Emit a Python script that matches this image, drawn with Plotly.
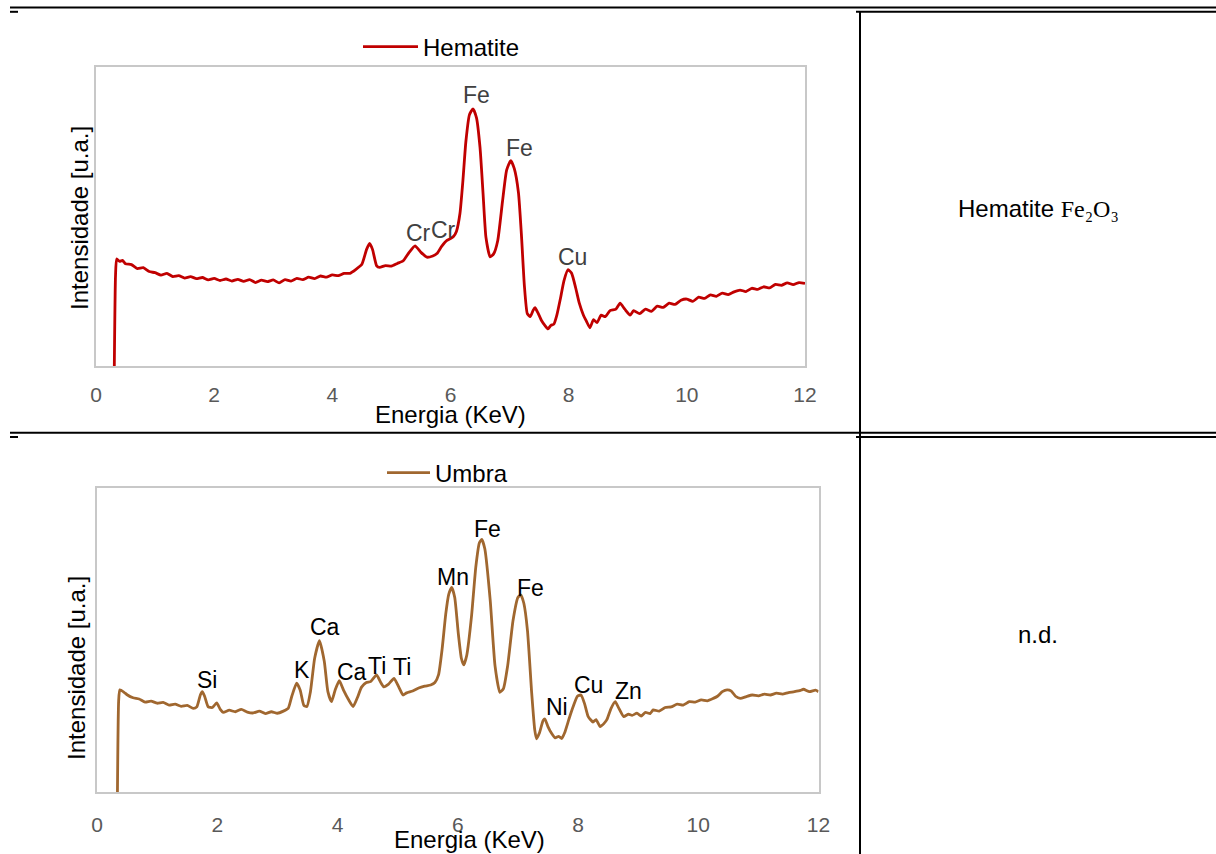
import numpy as np
import plotly.graph_objects as go

W, H = 1216, 854

# ---------------- data ----------------
hem_E = [0.31, 0.33, 0.35, 0.40, 0.45, 0.50, 0.60, 0.70, 0.80, 0.90, 1.00, 1.10, 1.20, 1.30, 1.40,
         1.50, 1.60, 1.70, 1.80, 1.90, 2.00, 2.10, 2.20, 2.30, 2.40, 2.50, 2.60, 2.70, 2.80, 2.90,
         3.00, 3.10, 3.20, 3.30, 3.40, 3.50, 3.60, 3.70, 3.80, 3.90, 4.00, 4.10, 4.20, 4.30, 4.40,
         4.50, 4.58, 4.63, 4.68, 4.75, 4.80, 4.90, 5.00, 5.10, 5.20, 5.30, 5.40, 5.50, 5.60, 5.70,
         5.77, 5.85, 5.94, 6.00, 6.05, 6.10, 6.16, 6.21, 6.26, 6.32, 6.38, 6.44, 6.50, 6.55, 6.60,
         6.67, 6.73, 6.80, 6.88, 6.95, 7.02, 7.08, 7.15, 7.20, 7.25, 7.30, 7.35, 7.40, 7.43, 7.48,
         7.54, 7.60, 7.65, 7.70, 7.75, 7.80, 7.86, 7.92, 7.99, 8.05, 8.12, 8.18, 8.25, 8.30, 8.36,
         8.42, 8.48, 8.55, 8.62, 8.70, 8.80, 8.87, 8.95, 9.04, 9.10, 9.20, 9.30, 9.40, 9.50, 9.60,
         9.70, 9.80, 9.90, 10.00, 10.10, 10.20, 10.30, 10.40, 10.50, 10.60, 10.70, 10.80, 10.90,
         11.00, 11.10, 11.20, 11.30, 11.40, 11.50, 11.60, 11.70, 11.80, 11.90, 12.00]
hem_I = [0.0, 30.0, 35.8, 35.0, 35.3, 34.2, 33.9, 32.6, 32.9, 31.6, 31.2, 30.4, 31.0, 29.9, 30.2,
         29.4, 29.9, 29.2, 29.6, 28.8, 29.3, 28.6, 29.1, 28.4, 29.0, 28.3, 28.9, 27.9, 28.7, 28.2,
         28.8, 27.8, 28.9, 28.4, 29.3, 28.9, 29.7, 29.2, 30.1, 29.7, 30.5, 30.2, 31.0, 31.0, 32.3,
         34.0, 39.0, 41.0, 39.0, 33.5, 33.0, 33.6, 33.4, 34.3, 35.2, 38.0, 40.2, 38.0, 36.4, 36.8,
         37.6, 40.0, 42.0, 42.6, 43.3, 45.0, 51.0, 62.0, 75.0, 84.0, 86.0, 83.0, 73.0, 58.0, 43.0,
         36.5, 37.5, 42.0, 55.0, 65.5, 68.7, 66.0, 58.0, 44.0, 27.0, 17.5, 16.5, 18.7, 19.5, 17.8,
         15.2, 13.5, 12.4, 13.6, 14.0, 17.0, 22.5, 28.5, 32.2, 31.0, 26.0, 21.0, 17.0, 15.0, 12.8,
         15.5, 14.5, 17.0, 16.5, 18.5, 19.0, 21.0, 19.0, 17.0, 18.5, 17.5, 19.0, 18.3, 20.0, 19.6,
         21.0, 20.6, 22.0, 22.4, 21.6, 23.0, 22.6, 23.8, 23.3, 24.4, 23.9, 24.8, 25.4,
         24.9, 26.0, 25.6, 26.5, 26.1, 27.3, 27.0, 27.8, 27.2, 27.9, 27.6]

umb_E = [0.34, 0.36, 0.38, 0.45, 0.50, 0.60, 0.70, 0.80, 0.90, 1.00, 1.10, 1.20, 1.30, 1.40, 1.50,
         1.60, 1.66, 1.72, 1.75, 1.79, 1.85, 1.92, 1.99, 2.05, 2.10, 2.20, 2.30, 2.40, 2.50, 2.60,
         2.70, 2.80, 2.90, 3.00, 3.10, 3.18, 3.24, 3.32, 3.38, 3.44, 3.49, 3.55, 3.62, 3.70, 3.78,
         3.84, 3.90, 3.96, 4.03, 4.10, 4.18, 4.26, 4.33, 4.40, 4.48, 4.55, 4.65, 4.72, 4.77, 4.85,
         4.94, 5.02, 5.09, 5.15, 5.25, 5.35, 5.45, 5.55, 5.62, 5.68, 5.74, 5.80, 5.85, 5.90, 5.95,
         6.01, 6.06, 6.10, 6.15, 6.23, 6.30, 6.36, 6.40, 6.45, 6.54, 6.62, 6.70, 6.76, 6.83, 6.92,
         7.00, 7.05, 7.10, 7.16, 7.23, 7.28, 7.31, 7.36, 7.42, 7.45, 7.50, 7.56, 7.62, 7.68, 7.73,
         7.78, 7.85, 7.92, 7.99, 8.05, 8.11, 8.17, 8.25, 8.30, 8.37, 8.43, 8.48, 8.55, 8.62, 8.68,
         8.76, 8.84, 8.90, 8.98, 9.05, 9.12, 9.20, 9.25, 9.35, 9.45, 9.55, 9.65, 9.75, 9.85, 9.95,
         10.05, 10.15, 10.25, 10.32, 10.40, 10.48, 10.55, 10.62, 10.70, 10.80, 10.90, 11.00, 11.10,
         11.20, 11.30, 11.40, 11.50, 11.60, 11.70, 11.75, 11.85, 11.95, 12.00]
umb_I = [0.0, 30.0, 33.6, 32.8, 32.0, 31.0, 30.6, 29.6, 29.9, 29.2, 29.5, 28.6, 28.9, 28.2, 28.5,
         27.5, 28.0, 32.0, 33.0, 31.5, 28.0, 27.8, 29.3, 27.2, 26.2, 26.9, 26.4, 27.2, 26.3, 26.0,
         26.6, 25.8, 26.4, 25.9, 26.6, 27.5, 31.5, 35.8, 33.5, 28.5, 28.1, 33.0, 44.0, 49.8, 43.0,
         33.0, 29.7, 33.5, 36.6, 33.5, 30.5, 28.1, 31.0, 34.5, 36.0, 36.3, 38.5, 36.0, 34.6, 35.5,
         37.4, 34.5, 31.9, 32.6, 33.2, 34.2, 34.8, 35.2, 36.0, 38.5, 47.0, 58.5, 65.0, 67.3, 64.0,
         52.0, 44.0, 41.8, 45.0, 58.0, 74.0, 82.0, 83.1, 80.0, 63.0, 41.5, 32.8, 34.0, 41.5, 56.5,
         64.0, 64.8, 62.0, 53.0, 32.5, 20.5, 17.5, 19.5, 23.5, 24.0, 21.5, 19.3, 17.8, 18.3, 17.6,
         19.6, 24.0, 28.1, 31.5, 31.9, 29.0, 24.8, 23.0, 23.8, 21.5, 22.5, 23.8, 27.5, 29.7, 27.5,
         24.8, 25.6, 25.2, 25.9, 25.0, 26.2, 25.8, 27.0, 26.6, 27.8, 28.0, 28.9, 28.6, 29.7, 29.6,
         30.3, 30.0, 30.8, 31.5, 33.0, 33.6, 33.2, 31.5, 30.8, 31.4, 31.9, 31.6, 32.2,
         31.9, 32.5, 32.2, 32.7, 33.0, 33.4, 33.8, 33.0, 33.5, 33.0]

hem_peaks = ["Cr", "Cr", "Fe", "Fe", "Cu"]
hem_peak_E = [5.40, 5.94, 6.38, 7.02, 8.00]
umb_peaks = ["Si", "K", "Ca", "Ca", "Ti", "Ti", "Mn", "Fe", "Fe", "Ni", "Cu", "Zn"]
umb_peak_E = [1.75, 3.32, 3.70, 4.03, 4.65, 4.94, 5.90, 6.40, 7.05, 7.45, 8.05, 8.62]
x_ticks = [0, 2, 4, 6, 8, 10, 12]
x_title = "Energia (KeV)"
y_title = "Intensidade [u.a.]"
cell_texts = ["Hematite <span style='font-family:Liberation Serif'>Fe₂O₃</span>", "n.d."]

# ---------------- style ----------------
HEM_COLOR = "#C00000"
UMB_COLOR = "#A0672F"
FONT = "Liberation Sans"
hem_shift = [(3, 13), (-3, 10), (4, 14), (9, 13), (4, 13)]
umb_shift = [(5, 12), (5, 13), (6, 14), (13, 9), (0, 9), (8, 11), (1, 10), (6, 10),
             (10, 7), (12, 12), (7, 10), (13, 11)]


def px(x):
    return x / W


def py(y):
    return 1 - y / H


fig = go.Figure()
fig.add_trace(go.Scatter(x=hem_E, y=hem_I, mode="lines", name="Hematite",
                         line=dict(color=HEM_COLOR, width=2.8, shape="spline", smoothing=0.5),
                         xaxis="x", yaxis="y", legend="legend"))
fig.add_trace(go.Scatter(x=umb_E, y=umb_I, mode="lines", name="Umbra",
                         line=dict(color=UMB_COLOR, width=2.8, shape="spline", smoothing=0.5),
                         xaxis="x2", yaxis="y2", legend="legend2"))

axis_common = dict(range=[0, 12], showgrid=False, zeroline=False, showline=True, mirror=True,
                   linecolor="#C8C8C8", linewidth=2, tickvals=x_ticks, ticks="",
                   automargin=False,
                   tickfont=dict(family=FONT, size=21, color="#595959"))
yaxis_common = dict(range=[0, 100], showgrid=False, zeroline=False, showline=True, mirror=True,
                    linecolor="#C8C8C8", linewidth=2, showticklabels=False, ticks="",
                    automargin=False)

fig.update_layout(
    width=W, height=H, autosize=False,
    margin=dict(l=0, r=0, t=0, b=0, pad=0, autoexpand=False),
    paper_bgcolor="white", plot_bgcolor="white",
    xaxis=dict(domain=[px(96), px(805)], anchor="y", ticklabelstandoff=9, **axis_common),
    yaxis=dict(domain=[py(366), py(67)], anchor="x", **yaxis_common),
    xaxis2=dict(domain=[px(97), px(818.5)], anchor="y2", ticklabelstandoff=13, **axis_common),
    yaxis2=dict(domain=[py(792), py(488)], anchor="x2", **yaxis_common),
    legend=dict(x=px(358), y=py(47), xanchor="left", yanchor="middle", itemwidth=55,
                font=dict(family=FONT, size=24, color="#000000"), bgcolor="rgba(0,0,0,0)"),
    legend2=dict(x=px(382), y=py(473), xanchor="left", yanchor="middle", itemwidth=43,
                 font=dict(family=FONT, size=24, color="#000000"), bgcolor="rgba(0,0,0,0)"),
    showlegend=True,
)

annotations = []
# peak labels
for name, e, (dx, dy) in zip(hem_peaks, hem_peak_E, hem_shift):
    annotations.append(dict(x=e, y=float(np.interp(e, hem_E, hem_I)), xref="x", yref="y",
                            text=name, showarrow=False, xanchor="center", yanchor="middle",
                            xshift=dx, yshift=dy,
                            font=dict(family=FONT, size=23, color="#404040")))
for name, e, (dx, dy) in zip(umb_peaks, umb_peak_E, umb_shift):
    annotations.append(dict(x=e, y=float(np.interp(e, umb_E, umb_I)), xref="x2", yref="y2",
                            text=name, showarrow=False, xanchor="center", yanchor="middle",
                            xshift=dx, yshift=dy,
                            font=dict(family=FONT, size=23, color="#000000")))
# axis titles
for (xc, yc) in [(450.5, 414), (469, 839)]:
    annotations.append(dict(x=px(xc), y=py(yc), xref="paper", yref="paper", text=x_title,
                            showarrow=False, xanchor="center", yanchor="middle",
                            font=dict(family=FONT, size=24, color="#000000")))
for (xc, yc) in [(79, 218), (76, 668)]:
    annotations.append(dict(x=px(xc), y=py(yc), xref="paper", yref="paper", text=y_title,
                            showarrow=False, xanchor="center", yanchor="middle", textangle=-90,
                            font=dict(family=FONT, size=24, color="#000000")))
# table cell texts
for txt, (xc, yc) in zip(cell_texts, [(1038, 208), (1038, 634)]):
    annotations.append(dict(x=px(xc), y=py(yc), xref="paper", yref="paper", text=txt,
                            showarrow=False, xanchor="center", yanchor="middle",
                            font=dict(family=FONT, size=24, color="#000000")))
fig.update_layout(annotations=annotations)

# table rules
rules = [
    (10, 7.5, 1216, 7.5), (10, 11.8, 18, 11.8), (856, 11.8, 1216, 11.8),
    (10, 432.7, 1216, 432.7), (10, 437, 18, 437), (856, 437, 1216, 437),
    (860, 11.8, 860, 854),
]
shapes = []
for x0, y0, x1, y1 in rules:
    shapes.append(dict(type="line", xref="paper", yref="paper",
                       x0=px(x0), y0=py(y0), x1=px(x1), y1=py(y1),
                       line=dict(color="black", width=2)))
fig.update_layout(shapes=shapes)

fig.write_html(
    "out.html",
    config={"responsive": False, "displayModeBar": False},
    post_script="document.body.style.margin='0';document.body.style.overflow='hidden';",
)
